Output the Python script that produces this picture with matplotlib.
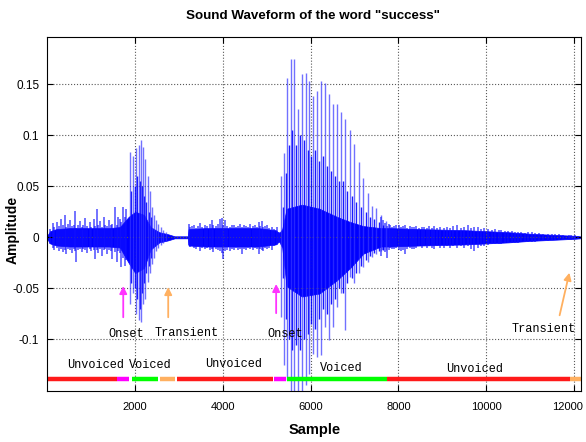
import numpy as np
import matplotlib.pyplot as plt
from matplotlib.transforms import ScaledTranslation

# dense band of the waveform (sample, upper, lower)
core_x = [0, 60, 200, 500, 800, 1100, 1400, 1650, 1850, 2000, 2200, 2350, 2550, 2750, 2900,
          3200, 3215, 3600, 4000, 4400, 4800, 5200, 5280, 5350, 5450, 5800, 6200, 6600, 6900,
          7200, 7600, 7800, 8500, 9500, 10000, 10500, 11000, 11500, 12000, 12140]
core_hi = [0.002, 0.006, 0.008, 0.009, 0.009, 0.009, 0.009, 0.010, 0.020, 0.025, 0.022, 0.010, 0.005, 0.003, 0.001,
           0.001, 0.008, 0.009, 0.009, 0.009, 0.009, 0.007, 0.004, 0.008, 0.028, 0.032, 0.028, 0.020, 0.015,
           0.011, 0.009, 0.009, 0.008, 0.007, 0.006, 0.005, 0.0035, 0.0025, 0.0015, 0.001]
core_lo = [-0.002, -0.006, -0.008, -0.009, -0.009, -0.009, -0.009, -0.010, -0.025, -0.035, -0.030, -0.012, -0.005, -0.003, -0.001,
           -0.001, -0.008, -0.009, -0.009, -0.009, -0.009, -0.007, -0.004, -0.010, -0.048, -0.058, -0.055, -0.042, -0.030,
           -0.016, -0.009, -0.009, -0.008, -0.007, -0.006, -0.005, -0.0035, -0.0025, -0.0015, -0.001]

# noise bursts in the unvoiced parts (sample, peak, trough)
noise_x = [60, 117, 150, 216, 253, 300, 350, 405, 420, 470, 520, 550, 600, 633, 650, 700, 740, 780, 820, 860,
           900, 960, 1000, 1050, 1073, 1127, 1160, 1200, 1240, 1280, 1320, 1350, 1400, 1440, 1469, 1530, 1583,
           1600, 1658, 1680, 1720, 1760, 1800,
           3215, 3250, 3290, 3329, 3380, 3430, 3481, 3530, 3580, 3640, 3700, 3748, 3784, 3840, 3890, 3936,
           3975, 4000, 4050, 4100, 4164, 4200, 4240, 4300, 4350, 4392, 4430, 4480, 4530, 4580, 4620, 4680,
           4730, 4780, 4813, 4850, 4886, 4923, 4960, 5004, 5060, 5114, 5170, 5232, 5280,
           7600, 7658, 7700, 7733, 7780, 7809, 7860, 7900, 7950, 8003, 8050, 8100, 8157, 8200, 8260, 8300,
           8349, 8400, 8460, 8538, 8579, 8640, 8700, 8760, 8809, 8880, 8950, 9039, 9114, 9180, 9250, 9344,
           9420, 9500, 9574, 9650, 9729, 9805, 9880, 9950, 10035, 10120, 10200, 10280, 10342, 10420, 10500,
           10580, 10650, 10725, 10800, 10880, 10950, 11032, 11110, 11200, 11300, 11417, 11500, 11568, 11650,
           11750, 11877, 11940, 12030, 12100]
noise_hi = [0.008, 0.014, 0.010, 0.015, 0.011, 0.018, 0.012, 0.022, 0.010, 0.013, 0.017, 0.011, 0.012, 0.026, 0.009,
            0.012, 0.016, 0.010, 0.012, 0.019, 0.011, 0.015, 0.010, 0.018, 0.011, 0.028, 0.012, 0.016, 0.010, 0.020,
            0.012, 0.011, 0.017, 0.012, 0.013, 0.030, 0.012, 0.020, 0.018, 0.015, 0.030, 0.020, 0.028,
            0.013, 0.010, 0.011, 0.012, 0.009, 0.011, 0.014, 0.010, 0.012, 0.011, 0.013, 0.017, 0.012, 0.011, 0.013, 0.018,
            0.019, 0.012, 0.017, 0.011, 0.010, 0.012, 0.012, 0.010, 0.011, 0.013, 0.010, 0.012, 0.011, 0.010, 0.013, 0.011,
            0.012, 0.010, 0.015, 0.011, 0.016, 0.010, 0.011, 0.012, 0.009, 0.010, 0.008, 0.010, 0.005,
            0.020, 0.017, 0.014, 0.011, 0.013, 0.012, 0.010, 0.011, 0.012, 0.012, 0.010, 0.011, 0.012, 0.009, 0.011, 0.010,
            0.010, 0.011, 0.009, 0.010, 0.010, 0.009, 0.011, 0.009, 0.011, 0.009, 0.010, 0.009, 0.010, 0.009, 0.011, 0.012,
            0.009, 0.010, 0.012, 0.009, 0.010, 0.010, 0.008, 0.009, 0.008, 0.007, 0.008, 0.007, 0.0075, 0.006, 0.006,
            0.006, 0.0055, 0.005, 0.005, 0.0045, 0.005, 0.005, 0.004, 0.004, 0.0035, 0.003, 0.003, 0.003, 0.0028,
            0.0025, 0.0025, 0.002, 0.002, 0.0015]
noise_lo = [-0.007, -0.010, -0.012, -0.010, -0.013, -0.011, -0.014, -0.012, -0.016, -0.011, -0.012, -0.015, -0.011, -0.013, -0.024,
            -0.012, -0.011, -0.014, -0.011, -0.012, -0.015, -0.011, -0.013, -0.012, -0.021, -0.012, -0.015, -0.011, -0.018, -0.012,
            -0.011, -0.016, -0.012, -0.013, -0.021, -0.014, -0.024, -0.013, -0.015, -0.029, -0.020, -0.028, -0.022,
            -0.008, -0.0095, -0.009, -0.010, -0.011, -0.009, -0.013, -0.010, -0.011, -0.010, -0.012, -0.011, -0.014, -0.011, -0.012, -0.013,
            -0.015, -0.021, -0.013, -0.012, -0.013, -0.011, -0.012, -0.010, -0.012, -0.011, -0.016, -0.011, -0.012, -0.010, -0.011, -0.012,
            -0.010, -0.011, -0.016, -0.011, -0.012, -0.013, -0.010, -0.011, -0.010, -0.012, -0.009, -0.008, -0.005,
            -0.018, -0.012, -0.014, -0.020, -0.012, -0.010, -0.011, -0.011, -0.010, -0.012, -0.013, -0.012, -0.016, -0.011, -0.010, -0.011,
            -0.011, -0.010, -0.009, -0.010, -0.009, -0.010, -0.009, -0.010, -0.011, -0.009, -0.010, -0.010, -0.009, -0.010, -0.009, -0.010,
            -0.009, -0.010, -0.009, -0.011, -0.013, -0.010, -0.009, -0.009, -0.008, -0.007, -0.007, -0.007, -0.0066, -0.006, -0.006,
            -0.006, -0.0055, -0.006, -0.005, -0.005, -0.0045, -0.005, -0.005, -0.004, -0.0035, -0.0035, -0.003, -0.003, -0.0028,
            -0.0025, -0.0025, -0.0025, -0.002, -0.0015]

# main pitch pulses of the voiced parts (sample, peak, trough)
pulse_x = [1880, 1950, 2020, 2080, 2130, 2180, 2230, 2280, 2330, 2380, 2430, 2480, 2530, 2580, 2640, 2700,
           5330, 5390, 5467, 5545, 5622, 5715, 5793, 5886, 5971, 6048, 6141, 6226, 6319, 6412,
           6505, 6606, 6692, 6784, 6886, 6978, 7094, 7194, 7312, 7403, 7497, 7597, 7713]
pulse_hi = [0.084, 0.080, 0.087, 0.090, 0.095, 0.088, 0.077, 0.060, 0.045, 0.030, 0.022, 0.017, 0.013, 0.010, 0.007, 0.005,
            0.060, 0.083, 0.156, 0.175, 0.175, 0.126, 0.160, 0.161, 0.153, 0.138, 0.143, 0.153, 0.151, 0.140,
            0.131, 0.131, 0.123, 0.116, 0.105, 0.091, 0.074, 0.058, 0.043, 0.031, 0.029, 0.022, 0.016]
pulse_lo = [-0.065, -0.055, -0.075, -0.081, -0.083, -0.065, -0.060, -0.044, -0.035, -0.026, -0.020, -0.013, -0.010, -0.008, -0.006, -0.004,
            -0.078, -0.125, -0.140, -0.155, -0.155, -0.155, -0.155, -0.145, -0.134, -0.114, -0.117, -0.115, -0.088, -0.101,
            -0.088, -0.068, -0.055, -0.091, -0.039, -0.045, -0.035, -0.029, -0.024, -0.019, -0.016, -0.013, -0.012]

# weaker darker pulses between the main ones
sub_x = [1915, 1985, 2050, 2105, 2155, 2205, 2255, 2305, 2355,
         5360, 5428, 5505, 5584, 5670, 5754, 5840, 5930, 6010, 6095, 6185, 6272, 6365, 6458,
         6555, 6650, 6738, 6835, 6932, 7036, 7144, 7253, 7358, 7450, 7547, 7655]
sub_hi = [0.045, 0.050, 0.060, 0.055, 0.050, 0.040, 0.035, 0.025, 0.020,
          0.030, 0.063, 0.090, 0.105, 0.090, 0.100, 0.095, 0.085, 0.080, 0.085, 0.075, 0.080, 0.070, 0.065,
          0.060, 0.055, 0.055, 0.045, 0.040, 0.035, 0.030, 0.025, 0.020, 0.018, 0.015, 0.012]
sub_lo = [-0.045, -0.050, -0.060, -0.070, -0.055, -0.045, -0.035, -0.028, -0.020,
          -0.040, -0.080, -0.100, -0.110, -0.105, -0.110, -0.100, -0.095, -0.085, -0.090, -0.080, -0.070, -0.075, -0.065,
          -0.060, -0.050, -0.055, -0.045, -0.040, -0.035, -0.028, -0.022, -0.018, -0.015, -0.013, -0.012]

# segmentation bar
seg_start = [0, 1590, 1935, 2570, 2955, 5155, 5470, 7730, 11905]
seg_end = [1590, 1865, 2530, 2910, 5140, 5440, 7730, 11905, 12160]
seg_color = ['#ff1a1a', '#ff00ff', '#00ff00', '#ffb060', '#ff1a1a', '#ff00ff', '#00ff00', '#ff1a1a', '#ffb060']

seg_labels = ['Unvoiced', 'Voiced', 'Unvoiced', 'Voiced', 'Unvoiced']
seg_label_x = [1090, 2350, 4240, 6700, 9740]
seg_label_y = [-0.1255, -0.1255, -0.1245, -0.128, -0.129]

ev_labels = ['Onset', 'Transient', 'Onset', 'Transient']
ev_x = [1800, 3170, 5420, 11300]
ev_y = [-0.095, -0.094, -0.095, -0.090]
ev_tip_x = [1727, 2752, 5212, 11909]
ev_tip_y = [-0.045, -0.046, -0.043, -0.032]
ev_tail_x = [1727, 2752, 5212, 11658]
ev_tail_y = [-0.081, -0.081, -0.077, -0.079]
ev_color = ['#ff33ff', '#ffb060', '#ff33ff', '#ffb060']

mono = ['Liberation Mono', 'DejaVu Sans Mono']
sans = ['Liberation Sans', 'DejaVu Sans']

fig = plt.figure(figsize=(5.86, 4.42), dpi=100)
ax = fig.add_axes([0.081, 0.1165, 0.9105, 0.7995])

ax.fill_between(core_x, core_lo, core_hi, color='#0000ff', lw=0.5)
ax.vlines(noise_x, noise_lo, noise_hi, color='#1010ff', lw=1.1, alpha=0.75)
ax.vlines(sub_x, sub_lo, sub_hi, color='#0000ff', lw=1.0, alpha=0.9)
ax.vlines(pulse_x, pulse_lo, pulse_hi, color='#3535ff', lw=1.0, alpha=0.7)

for s, e, c in zip(seg_start, seg_end, seg_color):
    ax.plot([s, e], [-0.139, -0.139], color=c, lw=3.2, solid_capstyle='butt')

for t, x, y in zip(seg_labels, seg_label_x, seg_label_y):
    ax.text(x, y, t, ha='center', va='center', family=mono, fontsize=8.6)

for i in range(len(ev_labels)):
    ax.annotate('', xy=(ev_tip_x[i], ev_tip_y[i]), xytext=(ev_tail_x[i], ev_tail_y[i]),
                arrowprops=dict(arrowstyle='-|>', color=ev_color[i], lw=1.3, mutation_scale=11))
    ax.text(ev_x[i], ev_y[i], ev_labels[i], ha='center', va='center', family=mono, fontsize=8.6)

ax.set_xlim(0, 12160)
ax.set_ylim(-0.15, 0.196)
ax.set_xticks([2000, 4000, 6000, 8000, 10000, 12000])
ax.set_yticks([-0.1, -0.05, 0, 0.05, 0.1, 0.15])
ax.set_yticklabels(['-0.1', '-0.05', '0', '0.05', '0.1', '0.15'])
ax.tick_params(direction='in', top=True, right=True, length=4)
ax.tick_params(axis='x', pad=8, labelsize=8)
ax.tick_params(axis='y', pad=6, labelsize=8.5)
for lab in ax.get_xticklabels() + ax.get_yticklabels():
    lab.set_family(sans)
last = ax.get_xticklabels()[-1]
last.set_transform(last.get_transform() + ScaledTranslation(-5 / 72, 0, fig.dpi_scale_trans))
ax.grid(True, linestyle=':', color='0.35', lw=0.8)

fig.text(0.5345, 0.963, 'Sound Waveform of the word "success"', family=sans, fontweight='bold',
         fontsize=9.6, ha='center', va='center')
ax.set_xlabel('Sample', family=sans, fontweight='bold', fontsize=10.5, labelpad=8)
ax.set_ylabel('Amplitude', family=sans, fontweight='bold', fontsize=10)
ax.yaxis.set_label_coords(-0.053, 0.455)

fig.savefig('out.png', dpi=100)
